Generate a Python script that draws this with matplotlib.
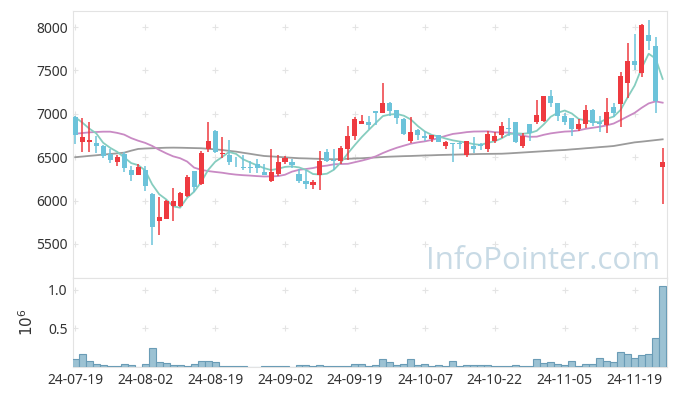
import numpy as np
import pandas as pd
import matplotlib
matplotlib.use('Agg')
from matplotlib import pyplot as plt

# trading days (KRX holidays removed)
holidays = ['2024-08-15', '2024-09-16', '2024-09-17', '2024-09-18',
            '2024-10-01', '2024-10-03', '2024-10-09']
dates = pd.bdate_range('2024-07-19', '2024-11-25', freq='C', holidays=holidays)

opens = [6960, 6680, 6670, 6660, 6630, 6540, 6450, 6540, 6350, 6300,
         6350, 6080, 5770, 5790, 5940, 5940, 6050, 6340, 6190, 6600,
         6800, 6540, 6520, 6450, 6390, 6390, 6420, 6330, 6220, 6310,
         6440, 6440, 6310, 6230, 6180, 6300, 6560, 6470, 6460, 6590,
         6740, 6880, 6900, 7030, 7010, 7130, 7040, 6940, 6690, 6810,
         6740, 6710, 6760, 6630, 6660, 6660, 6520, 6630, 6650, 6600,
         6690, 6750, 6840, 6900, 6630, 6880, 6900, 6920, 7200, 7120,
         6980, 6950, 6830, 6880, 7040, 6910, 6870, 7080, 7110, 7360,
         7610, 7470, 7910, 7780, 6390]
highs = [6980, 6950, 6900, 6740, 6640, 6590, 6530, 6560, 6400, 6420,
         6400, 6090, 6045, 6010, 6150, 6100, 6300, 6345, 6570, 6900,
         6810, 6730, 6700, 6500, 6520, 6460, 6475, 6420, 6600, 6530,
         6510, 6480, 6360, 6350, 6240, 6570, 6600, 6600, 6630, 6860,
         6960, 6990, 6970, 7030, 7350, 7140, 7045, 6950, 6960, 6820,
         6800, 6760, 6760, 6690, 6660, 6690, 6690, 6730, 6660, 6800,
         6790, 6900, 6950, 6900, 6780, 6880, 7160, 7200, 7270, 7130,
         7010, 6950, 6940, 7100, 7060, 6970, 7180, 7120, 7485, 7810,
         7920, 8030, 8080, 7880, 6610]
lows = [6650, 6560, 6560, 6550, 6490, 6430, 6400, 6330, 6230, 6290,
        6110, 5490, 5600, 5790, 5770, 5930, 6040, 6100, 6180, 6560,
        6550, 6490, 6410, 6390, 6350, 6320, 6320, 6290, 6210, 6280,
        6420, 6380, 6200, 6130, 6130, 6120, 6440, 6350, 6420, 6470,
        6700, 6880, 6830, 6870, 7010, 6980, 6880, 6750, 6660, 6700,
        6690, 6680, 6670, 6600, 6450, 6590, 6500, 6550, 6580, 6560,
        6660, 6720, 6740, 6660, 6610, 6690, 6880, 6900, 7080, 6920,
        6870, 6740, 6800, 6840, 6860, 6790, 6780, 6960, 6845, 7180,
        7510, 7420, 7735, 7005, 5960]
closes = [6760, 6730, 6700, 6630, 6510, 6470, 6500, 6380, 6300, 6390,
          6170, 5700, 5810, 6000, 5990, 6090, 6270, 6160, 6550, 6690,
          6560, 6550, 6450, 6440, 6380, 6380, 6380, 6290, 6330, 6450,
          6490, 6410, 6230, 6190, 6210, 6460, 6460, 6460, 6610, 6740,
          6940, 6920, 6870, 7010, 7130, 7030, 6950, 6770, 6790, 6750,
          6720, 6750, 6680, 6670, 6650, 6650, 6690, 6590, 6630, 6770,
          6740, 6860, 6830, 6680, 6740, 6780, 6990, 7200, 7120, 6970,
          6910, 6820, 6880, 7040, 6890, 6880, 7020, 7010, 7430, 7610,
          7560, 8020, 7840, 7150, 6440]
# volume in millions of shares
volumes = [0.103, 0.168, 0.078, 0.039, 0.026, 0.013, 0.013, 0.039, 0.026, 0.004,
           0.039, 0.246, 0.065, 0.052, 0.026, 0.026, 0.013, 0.039, 0.078, 0.078,
           0.065, 0.013, 0.013, 0.013, 0.013, 0.004, 0.004, 0.013, 0.013, 0.013,
           0.013, 0.005, 0.026, 0.026, 0.013, 0.026, 0.013, 0.013, 0.013, 0.013,
           0.047, 0.047, 0.013, 0.026, 0.103, 0.065, 0.026, 0.039, 0.103, 0.026,
           0.039, 0.013, 0.026, 0.013, 0.078, 0.013, 0.026, 0.026, 0.026, 0.026,
           0.013, 0.013, 0.013, 0.026, 0.013, 0.013, 0.103, 0.052, 0.065, 0.039,
           0.026, 0.078, 0.013, 0.039, 0.039, 0.116, 0.078, 0.065, 0.194, 0.168,
           0.116, 0.155, 0.168, 0.375, 1.05]

# moving averages before enough visible days exist
ma5_head = [6960, 6900, 6830, 6775]
ma20_head = [6770, 6778, 6786, 6790, 6794, 6794, 6780, 6760, 6720, 6690,
             6665, 6630, 6585, 6545, 6510, 6488, 6450, 6380, 6355]
ma60 = [6500, 6507, 6515, 6522, 6530, 6537, 6544, 6552, 6575, 6595,
        6600, 6603, 6606, 6609, 6610, 6609, 6607, 6605, 6603, 6597,
        6590, 6583, 6573, 6564, 6551, 6539, 6526, 6514, 6509, 6504,
        6498, 6493, 6488, 6486, 6483, 6481, 6478, 6476, 6479, 6482,
        6485, 6488, 6493, 6497, 6502, 6506, 6509, 6512, 6514, 6517,
        6520, 6522, 6525, 6527, 6529, 6531, 6533, 6535, 6537, 6538,
        6539, 6540, 6544, 6549, 6554, 6559, 6564, 6569, 6574, 6579,
        6583, 6590, 6596, 6603, 6609, 6616, 6622, 6629, 6643, 6657,
        6671, 6679, 6688, 6697, 6706]

UP = '#ee3a40'
DOWN = '#6cc3da'

plt.rcParams['font.family'] = ['Noto Sans', 'DejaVu Sans']

df = pd.DataFrame({'open': opens, 'high': highs, 'low': lows,
                   'close': closes, 'vol': volumes}, index=dates)
x = np.arange(len(df))

ma5 = df['close'].rolling(5).mean().values
ma5[:4] = ma5_head
ma20 = df['close'].rolling(20).mean().values
ma20[:19] = ma20_head

fig = plt.figure(figsize=(6.77, 3.96), dpi=100)
ax = fig.add_axes([0.108, 0.298, 0.877, 0.675])
ax_v = fig.add_axes([0.108, 0.0725, 0.877, 0.2255], sharex=ax)

# candles
up = df['close'] >= df['open']
colors = np.where(up, UP, DOWN)
body_low = np.minimum(df['open'], df['close'])
body_h = np.maximum(np.abs(df['close'] - df['open']), 8)
ax.vlines(x, df['low'], df['high'], colors=colors, lw=1.1, zorder=3)
ax.bar(x, body_h, bottom=body_low, width=0.72, color=colors, zorder=4)

ax.plot(x, ma60, color='#9b9b9b', lw=1.3, zorder=2)
ax.plot(x, ma20, color='#c98ac4', lw=1.3, zorder=2)
ax.plot(x, ma5, color='#86cdbf', lw=1.3, zorder=2)

ax.text(0.988, 0.035, 'InfoPointer.com', transform=ax.transAxes,
        ha='right', va='baseline', fontsize=22.5, color='#c8dae5',
        family=['Open Sans', 'DejaVu Sans'], zorder=1)

# volume
ax_v.bar(x, df['vol'], width=1.0, color='#9cc2d3', edgecolor='#6a9cb6',
         lw=0.8, zorder=3)

xt = x[::10]
ax.set_xlim(-0.3, 84.6)
ax.set_ylim(5108, 8188)
ax_v.set_ylim(0, 1.15)

price_ticks = [5500, 6000, 6500, 7000, 7500, 8000]
ax.set_yticks(price_ticks)
ax_v.set_yticks([0.5, 1.0])
ax_v.set_yticklabels(['0.5', '1.0'])
ax_v.set_xticks(xt)
ax_v.set_xticklabels(df.index[::10].strftime('%y-%m-%d'))
ax_v.set_ylabel(r'$10^6$', fontsize=11, color='#333333', labelpad=8)

# small crosses instead of grid lines
gx, gy = np.meshgrid(xt, price_ticks)
ax.plot(gx.ravel(), gy.ravel(), '+', color='#e4e4e4', ms=4.5, mew=0.8, zorder=0)
gx, gy = np.meshgrid(xt, [0.5, 1.0])
ax_v.plot(gx.ravel(), gy.ravel(), '+', color='#e4e4e4', ms=4.5, mew=0.8, zorder=0)

for a in (ax, ax_v):
    for sp in a.spines.values():
        sp.set_color('#e3e3e3')
    a.tick_params(length=0, labelsize=10, labelcolor='#333333', pad=4)
ax.tick_params(labelbottom=False)

fig.savefig('out.png', dpi=100)
